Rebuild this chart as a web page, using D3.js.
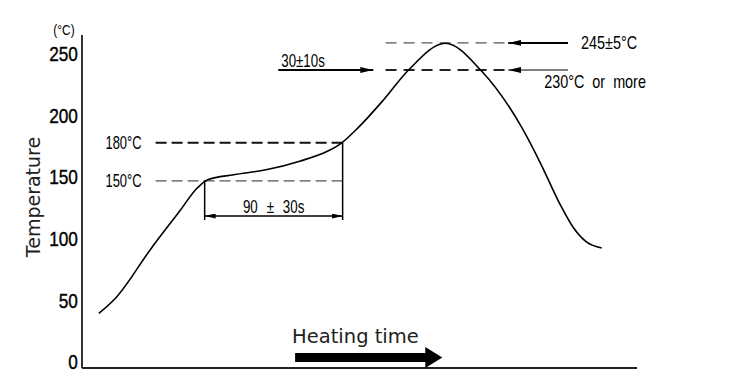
<!DOCTYPE html>
<html>
<head>
<meta charset="utf-8">
<script src="https://cdn.jsdelivr.net/npm/d3@7"></script>
<style>
  body { margin: 0; background: #fff; }
  svg { display: block; }
</style>
</head>
<body>
<div id="chart"></div>
<script>
// Reflow profile (time in s, temperature in axis units)
const timeSec = [11, 22, 45, 64, 75, 82, 99, 120, 142, 160, 169, 180, 196.5, 213, 237, 260, 287, 299, 312, 320, 329, 339];
const tempC   = [39.5, 52, 92, 123, 141, 148, 152, 156, 163, 171, 177.5, 190, 212.5, 237, 258.7, 237, 190, 161.5, 127.5, 110, 97.5, 92.5];

const yTicks = [0, 50, 100, 150, 200, 250];

// Guide levels as drawn (axis units) and their labels
const soakLevels = [147, 178];
const soakLabels = ["150°C", "180°C"];
const reflowLevels = [259, 237];
const reflowLabels = ["245±5°C", "230°C or more"];

// Time marks (s)
const soakSpan = [80, 170];
const reflowStart = 198;
const reflowArrow = [317, 278];
const peakSpan = [128, 190];
const heatingArrow = [139, 235];

const width = 735;
const height = 378;
const margin = { top: 35, right: 98, bottom: 10, left: 82 };

const svg = d3.select("#chart")
    .append("svg")
    .attr("width", width)
    .attr("height", height);

const x = d3.scaleLinear()
    .domain([0, 362])
    .range([margin.left, width - margin.right]);

const y = d3.scaleLinear()
    .domain([0, 250])
    .range([362, 54]);

const sans = "'Liberation Sans', Arial, sans-serif";

// narrow text: drawn with Liberation Sans squeezed horizontally
function label(px, py, txt, size, sx, anchor) {
    return svg.append("text")
        .attr("transform", `translate(${px},${py}) scale(${sx},1)`)
        .style("font-family", sans)
        .style("font-size", size + "px")
        .style("text-anchor", anchor || "start")
        .style("white-space", "pre")
        .attr("fill", "#000")
        .text(txt);
}

// Arrow markers
const defs = svg.append("defs");
function marker(id, len, half) {
    defs.append("marker")
        .attr("id", id)
        .attr("markerUnits", "userSpaceOnUse")
        .attr("viewBox", `0 0 ${len} ${half * 2}`)
        .attr("refX", len)
        .attr("refY", half)
        .attr("markerWidth", len)
        .attr("markerHeight", half * 2)
        .attr("orient", "auto-start-reverse")
        .append("path")
        .attr("d", `M0,0L${len},${half}L0,${half * 2}Z`)
        .attr("fill", "#000");
}
marker("arr", 13, 3);
marker("arrSmall", 11, 2.5);

// Axes lines
const baseY = height - margin.bottom;
svg.append("line")
    .attr("x1", margin.left).attr("x2", margin.left)
    .attr("y1", margin.top).attr("y2", baseY)
    .attr("stroke", "#333").attr("stroke-width", 2);
svg.append("line")
    .attr("x1", margin.left).attr("x2", width - margin.right)
    .attr("y1", baseY).attr("y2", baseY)
    .attr("stroke", "#222").attr("stroke-width", 2);

// Y tick labels
const yAxis = d3.axisLeft(y).tickValues(yTicks).tickSize(0).tickPadding(5);
const gy = svg.append("g")
    .attr("transform", `translate(${margin.left},0)`)
    .call(yAxis);
gy.select(".domain").remove();
gy.selectAll(".tick text")
    .attr("transform", "scale(0.82,1)")
    .style("font-family", sans)
    .style("font-size", "21px")
    .attr("fill", "#000")
    .attr("stroke", "#000")
    .attr("stroke-width", 0.4);

// Unit and axis title
label(64, 35, "(°C)", 14, 0.85, "middle");

svg.append("text")
    .attr("transform", "rotate(-90)")
    .attr("x", -197).attr("y", 40)
    .style("text-anchor", "middle")
    .style("font-family", "'DejaVu Sans', sans-serif")
    .style("font-size", "19px")
    .attr("fill", "#222")
    .text("Temperature");

// Soak guides
soakLevels.forEach((v, i) => {
    svg.append("line")
        .attr("x1", x(48)).attr("x2", x(soakSpan[1]))
        .attr("y1", y(v)).attr("y2", y(v))
        .attr("stroke", i === 0 ? "#555" : "#111")
        .attr("stroke-width", i === 0 ? 1.3 : 2)
        .attr("stroke-dasharray", "11,5");
    label(x(48) - 14, y(v) + 6.5, soakLabels[i], 18, 0.72, "end");
});

// Soak dimension
const dimY = 216;
svg.append("line")
    .attr("x1", x(soakSpan[0])).attr("x2", x(soakSpan[0]))
    .attr("y1", y(soakLevels[0])).attr("y2", dimY + 4)
    .attr("stroke", "#000").attr("stroke-width", 1.5);
svg.append("line")
    .attr("x1", x(soakSpan[1])).attr("x2", x(soakSpan[1]))
    .attr("y1", y(soakLevels[1])).attr("y2", dimY + 4)
    .attr("stroke", "#000").attr("stroke-width", 1.5);
svg.append("line")
    .attr("x1", x(soakSpan[0])).attr("x2", x(soakSpan[1]))
    .attr("y1", dimY).attr("y2", dimY)
    .attr("stroke", "#000").attr("stroke-width", 1.3)
    .attr("marker-start", "url(#arrSmall)")
    .attr("marker-end", "url(#arrSmall)");
label(x((soakSpan[0] + soakSpan[1]) / 2), dimY - 3, "90 ± 30s", 18, 0.74, "middle")
    .style("word-spacing", "7px");

// Reflow guides
reflowLevels.forEach((v, i) => {
    svg.append("line")
        .attr("x1", x(reflowStart)).attr("x2", x(reflowArrow[1]))
        .attr("y1", y(v)).attr("y2", y(v))
        .attr("stroke", i === 0 ? "#555" : "#222")
        .attr("stroke-width", i === 0 ? 1.3 : 2)
        .attr("stroke-dasharray", "11,7");
    svg.append("line")
        .attr("x1", x(reflowArrow[0])).attr("x2", x(reflowArrow[1]))
        .attr("y1", y(v)).attr("y2", y(v))
        .attr("stroke", "#000")
        .attr("stroke-width", i === 0 ? 2 : 1)
        .attr("marker-end", "url(#arr)");
});
label(x(reflowArrow[0]) + 13, y(reflowLevels[0]) + 6.5, reflowLabels[0], 18, 0.8);
label(x(reflowArrow[1]) + 36, y(reflowLevels[1]) + 18, reflowLabels[1], 18, 0.8)
    .style("word-spacing", "5px");

// Time above 230
svg.append("line")
    .attr("x1", x(peakSpan[0])).attr("x2", x(peakSpan[1]))
    .attr("y1", y(reflowLevels[1])).attr("y2", y(reflowLevels[1]))
    .attr("stroke", "#000").attr("stroke-width", 2)
    .attr("marker-end", "url(#arr)");
label(x(peakSpan[0]) + 3, y(reflowLevels[1]) - 3, "30±10s", 18, 0.74);

// Profile curve
const profile = timeSec.map((t, i) => ({ t: t, v: tempC[i] }));
const line = d3.line()
    .x(d => x(d.t))
    .y(d => y(d.v))
    .curve(d3.curveMonotoneX);
svg.append("path")
    .datum(profile)
    .attr("d", line)
    .attr("fill", "none")
    .attr("stroke", "#000")
    .attr("stroke-width", 1.6);

// Heating time arrow
const ha0 = x(heatingArrow[0]), ha1 = x(heatingArrow[1]);
svg.append("path")
    .attr("d", `M${ha0},353 L${ha1 - 17},353 L${ha1 - 17},347 L${ha1},357.5 L${ha1 - 17},368 L${ha1 - 17},362 L${ha0},362 Z`)
    .attr("fill", "#000");
svg.append("text")
    .attr("x", ha0 - 3).attr("y", 343)
    .style("font-family", "'DejaVu Sans', sans-serif")
    .style("font-size", "19.5px")
    .attr("fill", "#222")
    .text("Heating time");
</script>
</body>
</html>
